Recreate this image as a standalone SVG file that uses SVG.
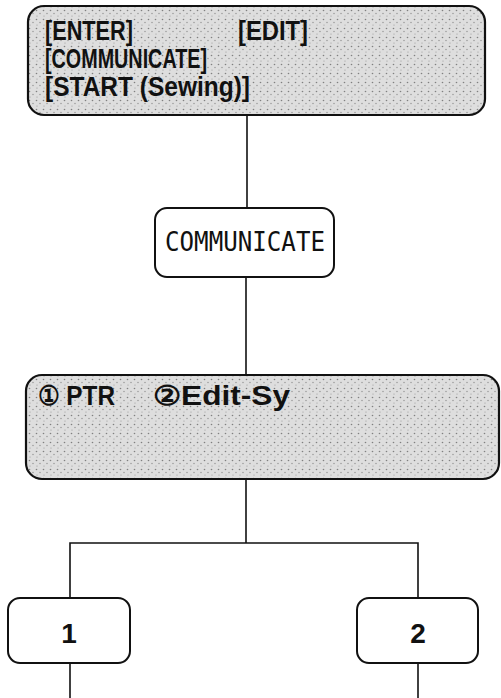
<svg xmlns="http://www.w3.org/2000/svg" width="501" height="698" viewBox="0 0 501 698">
<style>
.box{stroke:#111;stroke-width:2;fill:#fff}
.shade{fill:url(#stipple);stroke:#111;stroke-width:2.2}
.conn{stroke:#111;stroke-width:1.6;fill:none}
.lbl{font-family:"Liberation Sans",Arial,sans-serif;font-size:27px;font-weight:bold;fill:#111}
.mono{font-family:"DejaVu Sans Mono","Liberation Mono",monospace;font-size:26px;fill:#111}
.num{font-family:"Liberation Sans",Arial,sans-serif;font-size:28px;font-weight:bold;fill:#111;text-anchor:middle}
</style>
<defs>
<pattern id="stipple" width="7" height="9" patternUnits="userSpaceOnUse">
<rect width="7" height="9" fill="#dedede"/>
<circle cx="1.5" cy="1.5" r="0.8" fill="#808080"/>
<circle cx="5" cy="4.5" r="0.7" fill="#909090"/>
<circle cx="2" cy="7" r="0.6" fill="#999"/>
</pattern>
</defs>
<g id="connectors">
<line class="conn" x1="247" y1="115" x2="247" y2="208"/>
<line class="conn" x1="246" y1="277" x2="246" y2="375"/>
<line class="conn" x1="246" y1="478" x2="246" y2="543"/>
<polyline class="conn" points="70,598 70,543 418,543 418,598"/>
<line class="conn" x1="70" y1="663" x2="70" y2="698"/>
<line class="conn" x1="418" y1="663" x2="418" y2="698"/>
</g>
<g id="node-menu">
<rect class="shade" x="28" y="6" width="457" height="109" rx="16"/>
<text class="lbl" x="45" y="40" textLength="88" lengthAdjust="spacingAndGlyphs">[ENTER]</text>
<text class="lbl" x="238" y="40" textLength="70" lengthAdjust="spacingAndGlyphs">[EDIT]</text>
<text class="lbl" x="45" y="68" textLength="162" lengthAdjust="spacingAndGlyphs">[COMMUNICATE]</text>
<text class="lbl" x="45" y="96" textLength="205" lengthAdjust="spacingAndGlyphs">[START (Sewing)]</text>
</g>
<g id="node-communicate">
<rect class="box" x="155" y="208" width="179" height="69" rx="12"/>
<text class="mono" x="165" y="251" textLength="160" lengthAdjust="spacingAndGlyphs">COMMUNICATE</text>
</g>
<g id="node-options">
<rect class="shade" x="26" y="375" width="473" height="104" rx="16"/>
<text class="lbl" x="38" y="405" textLength="77" lengthAdjust="spacingAndGlyphs">① PTR</text>
<text class="lbl" x="153" y="405" textLength="137" lengthAdjust="spacingAndGlyphs">②Edit-Sy</text>
</g>
<g id="node-1">
<rect class="box" x="8" y="598" width="122" height="65" rx="12"/>
<text class="num" x="69" y="643">1</text>
</g>
<g id="node-2">
<rect class="box" x="357" y="598" width="121" height="65" rx="12"/>
<text class="num" x="418" y="643">2</text>
</g>
</svg>
